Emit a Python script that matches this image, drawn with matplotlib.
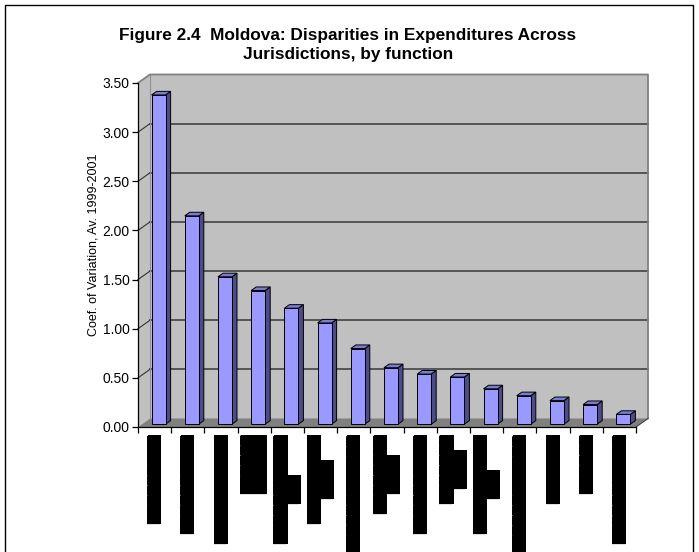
import matplotlib
matplotlib.use("Agg")
import matplotlib.pyplot as plt
import matplotlib.transforms as mtransforms
from matplotlib.patches import Polygon, Rectangle

# ---------------- data ----------------
values = [3.35, 2.12, 1.50, 1.36, 1.18, 1.03, 0.77, 0.575, 0.51, 0.48, 0.36, 0.29, 0.24, 0.20, 0.10]
# category labels are illegible in the reference (rendered as solid black blocks)
B = "\u2588"
labels = [B * 9, B * 10, B * 11, B * 6 + "\n" + B * 6, B * 11 + "\n" + B * 3,
          B * 9 + "\n" + B * 4, B * 12, B * 8 + "\n" + B * 4, B * 10,
          B * 7 + "\n" + B * 4, B * 10 + "\n" + B * 3, B * 12, B * 7, B * 6, B * 11]
yticks = [0.0, 0.5, 1.0, 1.5, 2.0, 2.5, 3.0, 3.5]
title = "Figure 2.4  Moldova: Disparities in Expenditures Across\nJurisdictions, by function"
ylabel = "Coef. of Variation, Av. 1999-2001"

# ---------------- layout ----------------
W, H = 699, 552
fig = plt.figure(figsize=(W / 100, H / 100), dpi=100)
ax_l, ax_r, ax_b, ax_t = 138, 636, 427, 83
ax = fig.add_axes([ax_l / W, 1 - ax_b / H, (ax_r - ax_l) / W, (ax_b - ax_t) / H])
n = len(values)
ax.set_xlim(0, n)
ax.set_ylim(0, 3.5)
ax.set_facecolor("none")

ppx = (ax_r - ax_l) / n          # pixels per category
ppy = (ax_b - ax_t) / 3.5        # pixels per unit
DX = 12 / ppx                    # depth offset (data units)
DY = 8.5 / ppy

wall_c = "#C0C0C0"
floor_c = "#808080"
grid_c = "#555555"

# side wall & back wall
ax.add_patch(Polygon([(0, 0), (DX, DY), (DX, 3.5 + DY), (0, 3.5)], closed=True,
                     facecolor=wall_c, edgecolor="none", clip_on=False, zorder=0))
ax.add_patch(Rectangle((DX, DY), n, 3.5, facecolor=wall_c, edgecolor="none",
                       clip_on=False, zorder=0))
# floor
ax.add_patch(Polygon([(0, 0), (n, 0), (n + DX, DY), (DX, DY)], closed=True,
                     facecolor=floor_c, edgecolor="none", clip_on=False, zorder=1))
# gridlines on walls
for t in yticks[1:-1]:
    ax.plot([DX, n + DX], [t + DY, t + DY], color=grid_c, lw=1.4, clip_on=False, zorder=1)
    ax.plot([0, DX], [t, t + DY], color="#333333", lw=0.8, clip_on=False, zorder=1)
# wall outlines
ax.plot([0, DX, n + DX, n + DX], [3.5, 3.5 + DY, 3.5 + DY, DY], color="#808080",
        lw=1.3, clip_on=False, zorder=1)
ax.plot([DX, DX], [DY, 3.5 + DY], color="#909090", lw=0.8, clip_on=False, zorder=1)
ax.plot([n, n + DX], [0, DY], color="#404040", lw=0.8, clip_on=False, zorder=1)

# bars
bw = 14 / ppx
f0, f1 = 0.33, 0.75
front_c, side_c, top_c = "#9999FF", "#4C4C8A", "#7B7BD6"
for i, v in enumerate(values):
    x0 = i + 0.5 - bw / 2
    x1 = x0 + bw
    fx, fy = f0 * DX, f0 * DY
    bx, by = f1 * DX, f1 * DY
    ax.add_patch(Polygon([(x1 + fx, fy), (x1 + bx, by), (x1 + bx, v + by), (x1 + fx, v + fy)],
                         closed=True, facecolor=side_c, edgecolor="black", lw=0.7, zorder=3,
                         clip_on=False))
    ax.add_patch(Polygon([(x0 + fx, v + fy), (x1 + fx, v + fy), (x1 + bx, v + by), (x0 + bx, v + by)],
                         closed=True, facecolor=top_c, edgecolor="black", lw=0.7, zorder=3,
                         clip_on=False))
    ax.add_patch(Rectangle((x0 + fx, fy), bw, v, facecolor=front_c, edgecolor="black",
                           lw=0.7, zorder=4, clip_on=False))

# axes styling
for s in ["top", "right"]:
    ax.spines[s].set_visible(False)
for s in ["left", "bottom"]:
    ax.spines[s].set_color("black")
    ax.spines[s].set_linewidth(0.9)
    ax.spines[s].set_zorder(5)
ax.set_yticks(yticks)
ax.set_yticklabels([f"{t:.2f}" for t in yticks], fontsize=10, family="Liberation Sans")
ax.set_xticks(range(n + 1))
ax.set_xticklabels([])
ax.tick_params(axis="both", direction="out", length=4, width=0.9, color="black")
ax.tick_params(axis="y", pad=2)

fig.text(93 / W, 1 - 245 / H, ylabel, rotation=90, ha="center", va="center",
         fontsize=9, family="Liberation Sans")

# category labels (solid blocks), one text per line, lines centred on each other
trans = mtransforms.blended_transform_factory(ax.transData, ax.transAxes)
line_px = 13
fs_lab = 9.3
box = dict(facecolor="black", edgecolor="black", pad=0, lw=0)
for i, lab in enumerate(labels):
    lines = lab.split("\n")
    k = len(lines)
    longest = max(range(k), key=lambda j: len(lines[j]))
    off = [(j - (k - 1) / 2) * line_px for j in range(k)]
    main = ax.annotate(lines[longest], xy=(i + 0.5, -(435 - 427) / (ax_b - ax_t)),
                       xycoords=trans, xytext=(off[longest], 0), textcoords="offset pixels",
                       rotation=90, ha="center", va="top", fontsize=fs_lab,
                       family="DejaVu Sans", color="black", bbox=box, annotation_clip=False)
    for j, ln in enumerate(lines):
        if j == longest:
            continue
        ax.annotate(ln, xy=(0.5, 0.5), xycoords=main,
                    xytext=(off[j] - off[longest], 0), textcoords="offset pixels",
                    rotation=90, ha="center", va="center", fontsize=fs_lab,
                    family="DejaVu Sans", color="black", bbox=box, annotation_clip=False)

fig.text(348 / W, 1 - 28 / H, title, ha="center", va="top", fontsize=12.4,
         family="Liberation Sans", weight="bold", linespacing=1.35)

# outer border (bottom edge cropped)
fig.add_artist(Rectangle((5 / W, -0.02), (693 - 5) / W, 1 - 5 / H + 0.02,
                         transform=fig.transFigure, fill=False, edgecolor="black", lw=1.0))

fig.savefig("out.png", dpi=100)
